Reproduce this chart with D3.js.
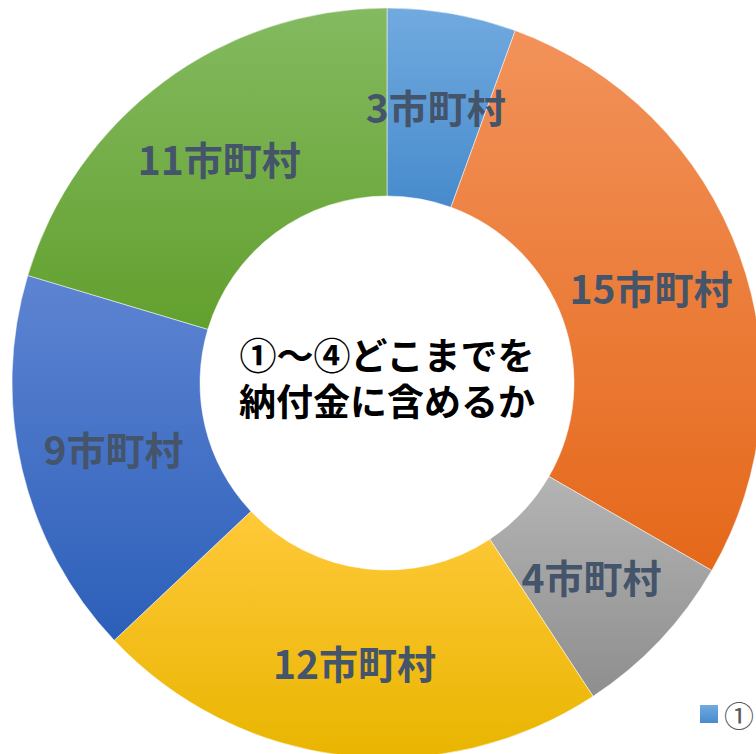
<!DOCTYPE html>
<html>
<head>
<meta charset="utf-8">
<script src="https://cdn.jsdelivr.net/npm/d3@7"></script>
<style>
  html, body { margin: 0; padding: 0; background: #fff; overflow: hidden; }
  svg { display: block; }
</style>
</head>
<body>
<svg id="chart" width="756" height="754"></svg>
<script>
const categories = ["①", "②", "③", "④", "⑤", "⑥"];
const values = [3, 15, 4, 12, 9, 11];
const labels = ["3市町村", "15市町村", "4市町村", "12市町村", "9市町村", "11市町村"];
const centerLines = ["①～④どこまでを", "納付金に含めるか"];
const legendLabels = ["①"];

const colorsTop = ["#71aadf", "#f2925a", "#b4b4b4", "#ffc93a", "#5d84d2", "#84ba60"];
const colorsBottom = ["#478bcd", "#e5681a", "#8e8e8e", "#e9b500", "#2c5fb9", "#62a02e"];

const W = 756, H = 754;
const cx = 387, cy = 383;
const rOuter = 375, rInner = 187;

const svg = d3.select("#chart");
const defs = svg.append("defs");
values.forEach((v, i) => {
  const g = defs.append("linearGradient")
    .attr("id", "grad" + i)
    .attr("x1", 0).attr("y1", 0).attr("x2", 0).attr("y2", 1);
  g.append("stop").attr("offset", "0%").attr("stop-color", colorsTop[i]);
  g.append("stop").attr("offset", "100%").attr("stop-color", colorsBottom[i]);
});

const pie = d3.pie().sort(null).value(d => d);
const arcs = pie(values);
const arc = d3.arc().innerRadius(rInner).outerRadius(rOuter);
const labelArc = d3.arc().innerRadius((rInner + rOuter) / 2).outerRadius((rInner + rOuter) / 2);

const g = svg.append("g").attr("transform", `translate(${cx},${cy})`);
g.selectAll("path.slice")
  .data(arcs)
  .join("path")
  .attr("class", "slice")
  .attr("d", arc)
  .attr("fill", (d, i) => `url(#grad${i})`)
  .attr("stroke", "#ffffff")
  .attr("stroke-width", 0.5);

g.selectAll("text.lbl")
  .data(arcs)
  .join("text")
  .attr("class", "lbl")
  .attr("x", d => labelArc.centroid(d)[0])
  .attr("y", d => labelArc.centroid(d)[1])
  .attr("text-anchor", "middle")
  .attr("dominant-baseline", "central")
  .attr("font-family", "'Noto Sans CJK JP', 'Noto Sans', sans-serif")
  .attr("font-weight", "bold")
  .attr("font-size", 39)
  .attr("fill", "#44546a")
  .text((d, i) => labels[i]);

const ct = g.append("text")
  .attr("class", "center")
  .attr("text-anchor", "middle")
  .attr("font-family", "'Noto Sans CJK JP', sans-serif")
  .attr("font-weight", "bold")
  .attr("font-size", 37)
  .attr("fill", "#000000");
ct.selectAll("tspan")
  .data(centerLines)
  .join("tspan")
  .attr("x", 0)
  .attr("y", (d, i) => -29 + i * 46)
  .attr("dominant-baseline", "central")
  .text(d => d);

// Legend (partially visible)
const leg = svg.append("g");
leg.selectAll("rect")
  .data(legendLabels)
  .join("rect")
  .attr("x", 700).attr("y", 705)
  .attr("width", 18).attr("height", 18)
  .attr("fill", "url(#grad0)");
leg.selectAll("text")
  .data(legendLabels)
  .join("text")
  .attr("x", 724).attr("y", 714)
  .attr("dominant-baseline", "central")
  .attr("font-family", "'Noto Sans CJK JP', sans-serif")
  .attr("font-size", 30)
  .attr("fill", "#595959")
  .text(d => d);
</script>
</body>
</html>
